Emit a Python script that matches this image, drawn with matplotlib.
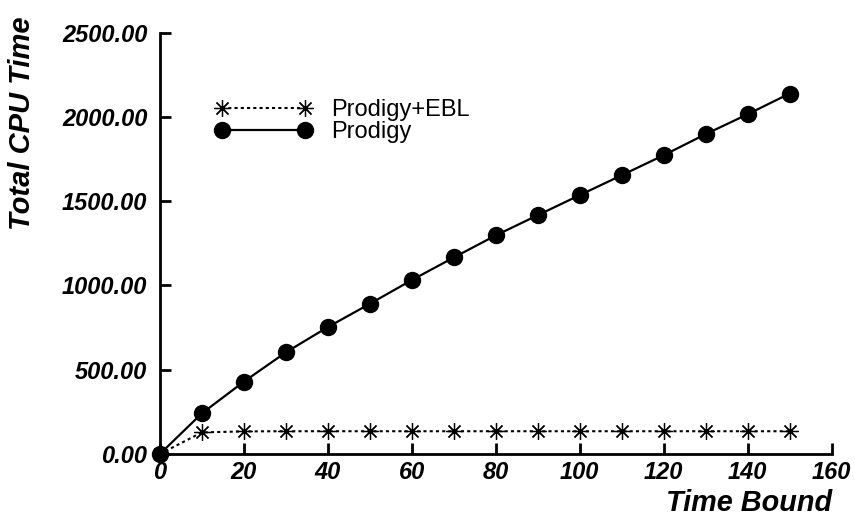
import matplotlib
matplotlib.use("Agg")
import matplotlib.pyplot as plt

plt.rcParams["font.family"] = ["Liberation Sans", "DejaVu Sans"]

# time bound vs. cumulative CPU time
time_bound = [0, 10, 20, 30, 40, 50, 60, 70, 80, 90, 100, 110, 120, 130, 140, 150]
prodigy = [0, 241, 429, 603, 753, 891, 1032, 1166, 1297, 1417, 1536, 1654, 1773, 1898, 2016, 2139]
prodigy_ebl = [0, 128, 134, 135, 135, 135, 135, 135, 135, 135, 135, 135, 135, 135, 135, 135]

x_ticks = [0, 20, 40, 60, 80, 100, 120, 140, 160]
y_ticks = [0, 500, 1000, 1500, 2000, 2500]

fig = plt.figure(figsize=(8.55, 5.17), dpi=100)
ax = fig.add_axes([0.187, 0.1219, 0.7857, 0.8149])

ax.plot(time_bound, prodigy_ebl, color="black", lw=1.5, ls=(0, (1.5, 1.5)),
        marker=(8, 2, 0), ms=12, mew=0.9, label="Prodigy+EBL")
ax.plot(time_bound, prodigy, color="black", lw=1.6, marker="o", ms=11.5,
        label="Prodigy")

ax.set_xlim(0, 160)
ax.set_ylim(0, 2500)
ax.set_xticks(x_ticks)
ax.set_yticks(y_ticks)
ax.set_xticklabels([str(v) for v in x_ticks])
ax.set_yticklabels([f"{v:.2f}" for v in y_ticks])
for s in ("top", "right"):
  ax.spines[s].set_visible(False)
for s in ("left", "bottom"):
  ax.spines[s].set_linewidth(2)
ax.tick_params(direction="in", length=8, width=2, labelsize=17)
ax.tick_params(axis="y", pad=9)
ax.tick_params(axis="x", pad=5)
for lab in ax.get_xticklabels() + ax.get_yticklabels():
  lab.set_fontweight("bold")
  lab.set_fontstyle("italic")
for line in ax.lines:
  line.set_clip_on(False)

leg = ax.legend(loc="upper left", bbox_to_anchor=(0.082, 0.843), frameon=False,
                numpoints=2, handlelength=4.1, fontsize=17, labelspacing=0.0,
                handletextpad=0.8, borderpad=0, borderaxespad=0)

fig.text(22 / 855, 1 - 123 / 517, "Total CPU Time", rotation=90, ha="center",
         va="center", fontsize=21, fontweight="bold", fontstyle="italic")
fig.text(832 / 855, 1 - 503 / 517, "Time Bound", ha="right", va="center",
         fontsize=20.8, fontweight="bold", fontstyle="italic")

fig.savefig("out.png", dpi=100)
